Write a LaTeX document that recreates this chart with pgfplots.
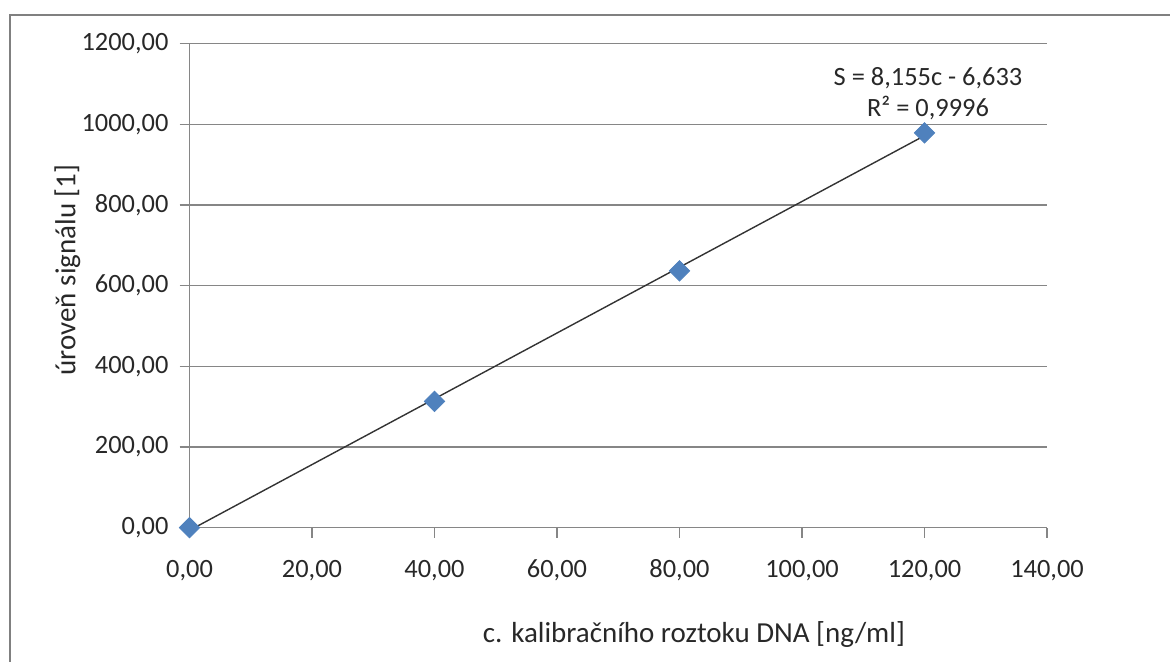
\documentclass[border=0pt]{standalone}
\usepackage{fontspec}
\setmainfont{Carlito}
\usepackage{pgfplots}
\pgfplotsset{compat=1.18}
\definecolor{gridgrey}{RGB}{134,134,134}
\definecolor{framegrey}{RGB}{128,128,128}
\definecolor{xlblue}{RGB}{79,129,189}
\definecolor{txt}{RGB}{40,40,40}
\begin{document}
\begin{tikzpicture}[x=1pt,y=1pt]
\useasboundingbox (0,0) rectangle (585,331);
\draw[framegrey, line width=1.3pt] (5,0) -- (5,323.5) -- (586,323.5);
\begin{axis}[
  at={(94.75pt,67.15pt)}, anchor=south west,
  scale only axis, width=428.75pt, height=242pt,
  xmin=0, xmax=140, ymin=0, ymax=1200,
  xtick={0,20,...,140}, ytick={0,200,...,1200},
  axis x line=bottom, axis y line=left,
  axis line style={gridgrey, line width=0.7pt, -},
  ymajorgrids, major grid style={gridgrey, line width=0.7pt},
  tick style={gridgrey, line width=0.7pt},
  tick align=outside, major tick length=5pt,
  xticklabel={\pgfmathprintnumber[fixed,fixed zerofill,precision=2,use comma,1000 sep={},assume math mode=true]{\tick}},
  yticklabel={\pgfmathprintnumber[fixed,fixed zerofill,precision=2,use comma,1000 sep={},assume math mode=true]{\tick}},
  ticklabel style={font=\fontsize{13.2}{15}\selectfont, text=txt},
  yticklabel style={anchor=east, xshift=-2pt},
  xticklabel style={anchor=base, yshift=-20pt},
  clip=true,
]
\addplot[only marks, mark=square*, mark size=3.6pt, color=xlblue, mark options={fill=xlblue, draw=xlblue, rotate=45}]
  coordinates {(0,0) (40,313) (80,637) (120,979)};
\addplot[black!80, line width=0.7pt, no marks] coordinates {(0,-6.633) (120,971.967)};
\end{axis}
\node[rotate=90, anchor=center, text=txt, font=\fontsize{14.5}{17}\selectfont] at (33.75,196) {úroveň signálu [1]};
\node[anchor=base, text=txt, font=\fontsize{14.5}{17}\selectfont] at (347,9.5) {c. kalibračního roztoku DNA [ng/ml]};
\node[anchor=base, text=txt, font=\fontsize{13.2}{15}\selectfont] at (464,288) {S = 8,155c - 6,633};
\node[anchor=base, text=txt, font=\fontsize{13.2}{15}\selectfont] at (464,272.5) {R² = 0,9996};
\end{tikzpicture}
\end{document}
